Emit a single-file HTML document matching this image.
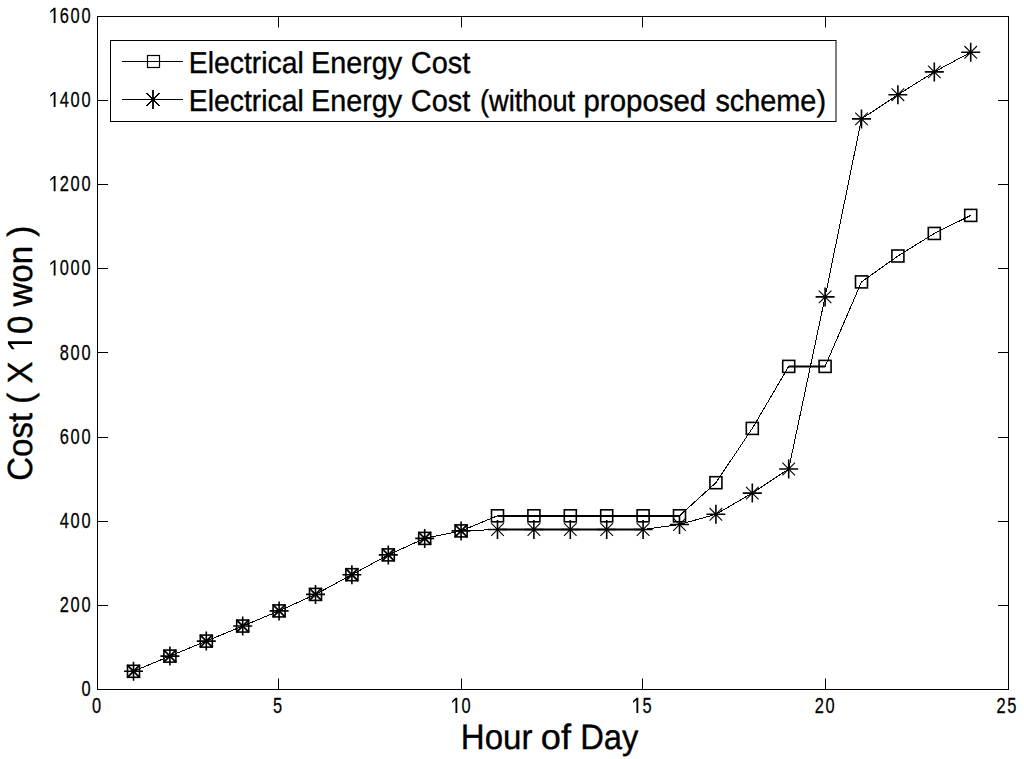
<!DOCTYPE html>
<html><head><meta charset="utf-8"><style>
html,body{margin:0;padding:0;background:#fff;width:1024px;height:759px;overflow:hidden}
svg{display:block}
text{font-family:"Liberation Sans",sans-serif;fill:#000}
.tick text{font-size:22.8px;letter-spacing:2.4px;stroke:#000;stroke-width:0.3px}
.lg{font-size:28.8px;text-rendering:geometricPrecision;stroke:#000;stroke-width:0.35px}
.lab{font-size:33.7px;text-rendering:geometricPrecision;stroke:#000;stroke-width:0.35px}
</style></head><body>
<svg width="1024" height="759" viewBox="0 0 1024 759">
<rect x="97.5" y="16.5" width="911" height="673" fill="none" stroke="#000" stroke-width="1"/>
<path d="M97.5 689V678.5M97.5 17V27.5M278.5 689V678.5M278.5 17V27.5M461.5 689V678.5M461.5 17V27.5M642.5 689V678.5M642.5 17V27.5M825.5 689V678.5M825.5 17V27.5M1008.5 689V678.5M1008.5 17V27.5M97 689.5H108.0M1009 689.5H998.0M97 605.5H108.0M1009 605.5H998.0M97 521.5H108.0M1009 521.5H998.0M97 437.5H108.0M1009 437.5H998.0M97 352.5H108.0M1009 352.5H998.0M97 268.5H108.0M1009 268.5H998.0M97 184.5H108.0M1009 184.5H998.0M97 100.5H108.0M1009 100.5H998.0M97 16.5H108.0M1009 16.5H998.0" stroke="#000" stroke-width="1" fill="none"/>
<g class="tick"><text transform="translate(97.5 713) scale(0.72 1)" text-anchor="middle">0</text><text transform="translate(278.5 713) scale(0.72 1)" text-anchor="middle">5</text><text transform="translate(461.5 713) scale(0.72 1)" text-anchor="middle">&#x2007;0</text><text transform="translate(642.5 713) scale(0.72 1)" text-anchor="middle">&#x2007;5</text><text transform="translate(825.5 713) scale(0.72 1)" text-anchor="middle">20</text><text transform="translate(1007.3 713) scale(0.72 1)" text-anchor="middle">25</text><text transform="translate(92.3 696.0) scale(0.72 1)" text-anchor="end">0</text><text transform="translate(92.3 611.9) scale(0.72 1)" text-anchor="end">200</text><text transform="translate(92.3 527.8) scale(0.72 1)" text-anchor="end">400</text><text transform="translate(92.3 443.6) scale(0.72 1)" text-anchor="end">600</text><text transform="translate(92.3 359.5) scale(0.72 1)" text-anchor="end">800</text><text transform="translate(92.3 275.4) scale(0.72 1)" text-anchor="end">&#x2007;000</text><text transform="translate(92.3 191.2) scale(0.72 1)" text-anchor="end">&#x2007;200</text><text transform="translate(92.3 107.1) scale(0.72 1)" text-anchor="end">&#x2007;400</text><text transform="translate(92.3 23.0) scale(0.72 1)" text-anchor="end">&#x2007;600</text></g>
<g fill="none" stroke="#000" stroke-width="1.0" shape-rendering="crispEdges"><polyline points="133.50,671.30 169.90,656.10 206.30,641.10 242.70,626.05 279.10,610.90 315.50,594.40 351.90,574.70 388.30,554.90 424.70,538.40 461.10,530.90 497.50,515.80 533.90,515.80 570.30,515.80 606.70,515.80 643.10,515.80 679.50,515.80 715.90,482.70 752.30,428.40 788.70,366.40 825.10,366.40 861.50,281.90 897.90,256.00 934.30,233.45 970.70,215.40"/><polyline points="133.50,671.30 169.90,656.10 206.30,641.10 242.70,626.05 279.10,610.90 315.50,594.40 351.90,574.70 388.30,554.90 424.70,538.40 461.10,530.90 497.50,529.50 533.90,529.50 570.30,529.50 606.70,529.50 643.10,529.50 679.50,524.50 715.90,514.30 752.30,493.10 788.70,469.00 825.10,296.90 861.50,118.90 897.90,94.70 934.30,71.90 970.70,52.30"/></g>
<path fill="none" stroke="#000" stroke-width="2" d="M497.50 516H679.50M497.50 529.5H643.10M788.70 366.4H825.10"/>
<g fill="none" stroke="#000" stroke-width="1.6"><rect x="127.50" y="665.30" width="12.00" height="12.00"/><rect x="163.90" y="650.10" width="12.00" height="12.00"/><rect x="200.30" y="635.10" width="12.00" height="12.00"/><rect x="236.70" y="620.05" width="12.00" height="12.00"/><rect x="273.10" y="604.90" width="12.00" height="12.00"/><rect x="309.50" y="588.40" width="12.00" height="12.00"/><rect x="345.90" y="568.70" width="12.00" height="12.00"/><rect x="382.30" y="548.90" width="12.00" height="12.00"/><rect x="418.70" y="532.40" width="12.00" height="12.00"/><rect x="455.10" y="524.90" width="12.00" height="12.00"/><rect x="491.50" y="509.80" width="12.00" height="12.00"/><rect x="527.90" y="509.80" width="12.00" height="12.00"/><rect x="564.30" y="509.80" width="12.00" height="12.00"/><rect x="600.70" y="509.80" width="12.00" height="12.00"/><rect x="637.10" y="509.80" width="12.00" height="12.00"/><rect x="673.50" y="509.80" width="12.00" height="12.00"/><rect x="709.90" y="476.70" width="12.00" height="12.00"/><rect x="746.30" y="422.40" width="12.00" height="12.00"/><rect x="782.70" y="360.40" width="12.00" height="12.00"/><rect x="819.10" y="360.40" width="12.00" height="12.00"/><rect x="855.50" y="275.90" width="12.00" height="12.00"/><rect x="891.90" y="250.00" width="12.00" height="12.00"/><rect x="928.30" y="227.45" width="12.00" height="12.00"/><rect x="964.70" y="209.40" width="12.00" height="12.00"/></g>
<path fill="none" stroke="#000" stroke-width="1.6" d="M124.00 671.30H143.00M133.50 661.80V680.80M160.40 656.10H179.40M169.90 646.60V665.60M196.80 641.10H215.80M206.30 631.60V650.60M233.20 626.05H252.20M242.70 616.55V635.55M269.60 610.90H288.60M279.10 601.40V620.40M306.00 594.40H325.00M315.50 584.90V603.90M342.40 574.70H361.40M351.90 565.20V584.20M378.80 554.90H397.80M388.30 545.40V564.40M415.20 538.40H434.20M424.70 528.90V547.90M451.60 530.90H470.60M461.10 521.40V540.40M488.00 529.50H507.00M497.50 520.00V539.00M524.40 529.50H543.40M533.90 520.00V539.00M560.80 529.50H579.80M570.30 520.00V539.00M597.20 529.50H616.20M606.70 520.00V539.00M633.60 529.50H652.60M643.10 520.00V539.00M670.00 524.50H689.00M679.50 515.00V534.00M706.40 514.30H725.40M715.90 504.80V523.80M742.80 493.10H761.80M752.30 483.60V502.60M779.20 469.00H798.20M788.70 459.50V478.50M815.60 296.90H834.60M825.10 287.40V306.40M852.00 118.90H871.00M861.50 109.40V128.40M888.40 94.70H907.40M897.90 85.20V104.20M924.80 71.90H943.80M934.30 62.40V81.40M961.20 52.30H980.20M970.70 42.80V61.80"/>
<path fill="none" stroke="#000" stroke-width="1.1" d="M491.20 523.20L503.80 535.80M491.20 535.80L503.80 523.20M527.60 523.20L540.20 535.80M527.60 535.80L540.20 523.20M564.00 523.20L576.60 535.80M564.00 535.80L576.60 523.20M600.40 523.20L613.00 535.80M600.40 535.80L613.00 523.20M636.80 523.20L649.40 535.80M636.80 535.80L649.40 523.20M673.20 518.20L685.80 530.80M673.20 530.80L685.80 518.20M709.60 508.00L722.20 520.60M709.60 520.60L722.20 508.00M746.00 486.80L758.60 499.40M746.00 499.40L758.60 486.80M782.40 462.70L795.00 475.30M782.40 475.30L795.00 462.70M818.80 290.60L831.40 303.20M818.80 303.20L831.40 290.60M855.20 112.60L867.80 125.20M855.20 125.20L867.80 112.60M891.60 88.40L904.20 101.00M891.60 101.00L904.20 88.40M928.00 65.60L940.60 78.20M928.00 78.20L940.60 65.60M964.40 46.00L977.00 58.60M964.40 58.60L977.00 46.00"/>
<path fill="none" stroke="#000" stroke-width="1.8" d="M127.20 665.00L139.80 677.60M127.20 677.60L139.80 665.00M163.60 649.80L176.20 662.40M163.60 662.40L176.20 649.80M200.00 634.80L212.60 647.40M200.00 647.40L212.60 634.80M236.40 619.75L249.00 632.35M236.40 632.35L249.00 619.75M272.80 604.60L285.40 617.20M272.80 617.20L285.40 604.60M309.20 588.10L321.80 600.70M309.20 600.70L321.80 588.10M345.60 568.40L358.20 581.00M345.60 581.00L358.20 568.40M382.00 548.60L394.60 561.20M382.00 561.20L394.60 548.60M418.40 532.10L431.00 544.70M418.40 544.70L431.00 532.10M454.80 524.60L467.40 537.20M454.80 537.20L467.40 524.60"/>
<g><circle cx="133.50" cy="671.30" r="1.7"/><circle cx="169.90" cy="656.10" r="1.7"/><circle cx="206.30" cy="641.10" r="1.7"/><circle cx="242.70" cy="626.05" r="1.7"/><circle cx="279.10" cy="610.90" r="1.7"/><circle cx="315.50" cy="594.40" r="1.7"/><circle cx="351.90" cy="574.70" r="1.7"/><circle cx="388.30" cy="554.90" r="1.7"/><circle cx="424.70" cy="538.40" r="1.7"/><circle cx="461.10" cy="530.90" r="1.7"/><circle cx="497.50" cy="529.50" r="1.7"/><circle cx="533.90" cy="529.50" r="1.7"/><circle cx="570.30" cy="529.50" r="1.7"/><circle cx="606.70" cy="529.50" r="1.7"/><circle cx="643.10" cy="529.50" r="1.7"/><circle cx="679.50" cy="524.50" r="1.7"/><circle cx="715.90" cy="514.30" r="1.7"/><circle cx="752.30" cy="493.10" r="1.7"/><circle cx="788.70" cy="469.00" r="1.7"/><circle cx="825.10" cy="296.90" r="1.7"/><circle cx="861.50" cy="118.90" r="1.7"/><circle cx="897.90" cy="94.70" r="1.7"/><circle cx="934.30" cy="71.90" r="1.7"/><circle cx="970.70" cy="52.30" r="1.7"/></g>
<rect x="110.5" y="40.5" width="725.5" height="81" fill="#fff" stroke="#000" stroke-width="1"/>
<path d="M122 61.5H183M122 99.5H183" stroke="#000" stroke-width="1"/>
<g fill="none" stroke="#000" stroke-width="1.2"><rect x="147.5" y="55.5" width="12" height="12"/></g>
<path fill="none" stroke="#000" stroke-width="1.8" d="M153 90.0V109.0"/>
<path fill="none" stroke="#000" stroke-width="1.1" shape-rendering="crispEdges" d="M146.70 93.20L159.30 105.80M146.70 105.80L159.30 93.20"/>
<circle cx="153" cy="99.5" r="1.7"/>
<text class="lg" transform="translate(188.83 73) scale(0.9842 1.05)">Electrical</text><text class="lg" transform="translate(311.00 73) scale(1.0000 1.05)">Energy</text><text class="lg" transform="translate(410.79 73) scale(1.0051 1.05)">Cost</text><text class="lg" transform="translate(188.83 111) scale(0.9842 1.05)">Electrical</text><text class="lg" transform="translate(311.00 111) scale(1.0000 1.05)">Energy</text><text class="lg" transform="translate(410.79 111) scale(1.0051 1.05)">Cost</text><text class="lg" transform="translate(480.06 111) scale(0.9430 1.05)">(without</text><text class="lg" transform="translate(583.48 111) scale(1.0220 1.05)">proposed</text><text class="lg" transform="translate(715.40 111) scale(1.0018 1.05)">scheme)</text>
<text class="lab" transform="translate(460.84 749) scale(0.9817 1.045)">Hour</text><text class="lab" transform="translate(540.82 749) scale(1.0750 1.045)">of</text><text class="lab" transform="translate(580.16 749) scale(0.9724 1.045)">Day</text>
<text class="lab" transform="translate(32,353.3) rotate(-90) scale(1 1.06)" style="font-size:33px" text-anchor="middle">Cost ( X &#x2007;0 won )</text>
<g fill="#000"><g transform="translate(461.5 713) scale(0.72 1)"><path d="M600 0L600 1175L180 905L180 1085L620 1362L830 1362L830 0Z" transform="translate(-15.08 0.00) scale(0.011133 -0.011133)"/></g><g transform="translate(642.5 713) scale(0.72 1)"><path d="M600 0L600 1175L180 905L180 1085L620 1362L830 1362L830 0Z" transform="translate(-15.08 0.00) scale(0.011133 -0.011133)"/></g><g transform="translate(92.3 275.4) scale(0.72 1)"><path d="M600 0L600 1175L180 905L180 1085L620 1362L830 1362L830 0Z" transform="translate(-60.31 0.00) scale(0.011133 -0.011133)"/></g><g transform="translate(92.3 191.2) scale(0.72 1)"><path d="M600 0L600 1175L180 905L180 1085L620 1362L830 1362L830 0Z" transform="translate(-60.31 0.00) scale(0.011133 -0.011133)"/></g><g transform="translate(92.3 107.1) scale(0.72 1)"><path d="M600 0L600 1175L180 905L180 1085L620 1362L830 1362L830 0Z" transform="translate(-60.31 0.00) scale(0.011133 -0.011133)"/></g><g transform="translate(92.3 23.0) scale(0.72 1)"><path d="M600 0L600 1175L180 905L180 1085L620 1362L830 1362L830 0Z" transform="translate(-60.31 0.00) scale(0.011133 -0.011133)"/></g><g transform="translate(32,353.3) rotate(-90) scale(1 1.06)"><path d="M515 0L515 1237L197 1010L197 1180L530 1409L696 1409L696 0Z" transform="translate(0.88 0.00) scale(0.016113 -0.016113)"/></g></g>
</svg>
</body></html>
